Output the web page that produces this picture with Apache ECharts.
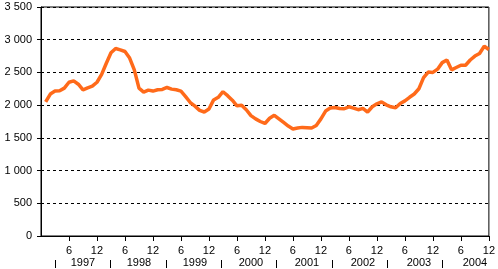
<!DOCTYPE html>
<html>
<head>
<meta charset="utf-8">
<script src="https://cdn.jsdelivr.net/npm/echarts@6/dist/echarts.min.js"></script>
<style>html,body{margin:0;padding:0;background:#fff}#c{width:498px;height:269px}</style>
</head>
<body>
<div id="c"></div>
<script>
// Monthly values, Jan 1997 .. Dec 2004 (month index 1..96)
const months = Array.from({length: 96}, (_, i) => i + 1);
const values = [
  2050, 2170, 2215, 2220, 2260, 2350, 2370, 2320, 2235, 2265, 2290, 2350,
  2470, 2640, 2800, 2865, 2845, 2820, 2720, 2540, 2260, 2200, 2230, 2215,
  2235, 2240, 2270, 2245, 2235, 2215, 2130, 2040, 1985, 1920, 1895, 1940,
  2080, 2120, 2205, 2145, 2075, 1990, 2000, 1930, 1840, 1790, 1750, 1720,
  1800, 1845, 1790, 1735, 1680, 1635, 1650, 1660, 1655, 1650, 1690, 1790,
  1910, 1955, 1965, 1950, 1945, 1975, 1955, 1930, 1950, 1895, 1975, 2020,
  2050, 2005, 1975, 1960, 2025, 2065, 2120, 2170, 2250, 2420, 2505, 2500,
  2550, 2650, 2690, 2540, 2575, 2610, 2610, 2690, 2750, 2790, 2900, 2850
];
const years = ['1997', '1998', '1999', '2000', '2001', '2002', '2003', '2004'];
const yearLabelPos = [9, 21, 33, 45, 57, 69, 81, 93];
const yearShift = 3; // year separators sit 3 months into each year

const W = 498, L = 41, R = 6;
const monthW = (W - L - R) / 96;
const font = {fontFamily: 'Liberation Sans, Arial, sans-serif', fontSize: 11, color: '#000'};
const chart = echarts.init(document.getElementById('c'), null, {renderer: 'canvas'});
chart.setOption({
  animation: false,
  grid: [
    {left: L, right: R, top: 7, bottom: 33, show: true, borderColor: '#000', borderWidth: 1, backgroundColor: 'transparent'},
    {left: L + yearShift * monthW, right: R - yearShift * monthW, top: 7, bottom: 33, show: false}
  ],
  xAxis: [
    {
      gridIndex: 0, type: 'value', min: 0, max: 96, interval: 6, position: 'bottom',
      axisLine: {show: true, onZero: false, lineStyle: {color: '#000', width: 1}},
      axisTick: {show: true, length: 5, lineStyle: {color: '#000'}},
      splitLine: {show: false},
      axisLabel: Object.assign({margin: 9, showMinLabel: false, showMaxLabel: true,
        formatter: v => v === 0 ? '' : (v % 12 === 0 ? '12' : '6')}, font)
    },
    {
      gridIndex: 0, type: 'value', min: 0, max: 96, position: 'bottom', offset: 12,
      axisLine: {show: false},
      axisTick: {show: false},
      splitLine: {show: false},
      axisLabel: Object.assign({margin: 9, interval: 0, customValues: yearLabelPos,
        formatter: v => years[yearLabelPos.indexOf(v)]}, font)
    },
    {
      gridIndex: 1, type: 'category', data: years, boundaryGap: true, position: 'bottom', offset: 24,
      axisLine: {show: false, onZero: false},
      axisTick: {show: true, length: 8, interval: 0, alignWithLabel: false, lineStyle: {color: '#000', width: 1}},
      splitLine: {show: false},
      axisLabel: {show: false}
    }
  ],
  yAxis: [
    {
      gridIndex: 0, type: 'value', min: 0, max: 3500, interval: 500,
      axisLine: {show: true, lineStyle: {color: '#000', width: 1}},
      axisTick: {show: true, length: 4, lineStyle: {color: '#000'}},
      splitLine: {show: true, lineStyle: {color: '#000', width: 1, type: [3, 3]}},
      axisLabel: Object.assign({margin: 9,
        formatter: v => String(v).replace(/\B(?=(\d{3})+(?!\d))/g, ' ')}, font)
    },
    {gridIndex: 1, type: 'value', show: false}
  ],
  series: [
    {
      type: 'line', xAxisIndex: 0, yAxisIndex: 0,
      data: months.map((m, i) => [m, values[i]]),
      showSymbol: false, smooth: false,
      lineStyle: {color: '#FF6A1A', width: 3.5},
      itemStyle: {color: '#FF6A1A'}
    }
  ]
});
</script>
</body>
</html>
